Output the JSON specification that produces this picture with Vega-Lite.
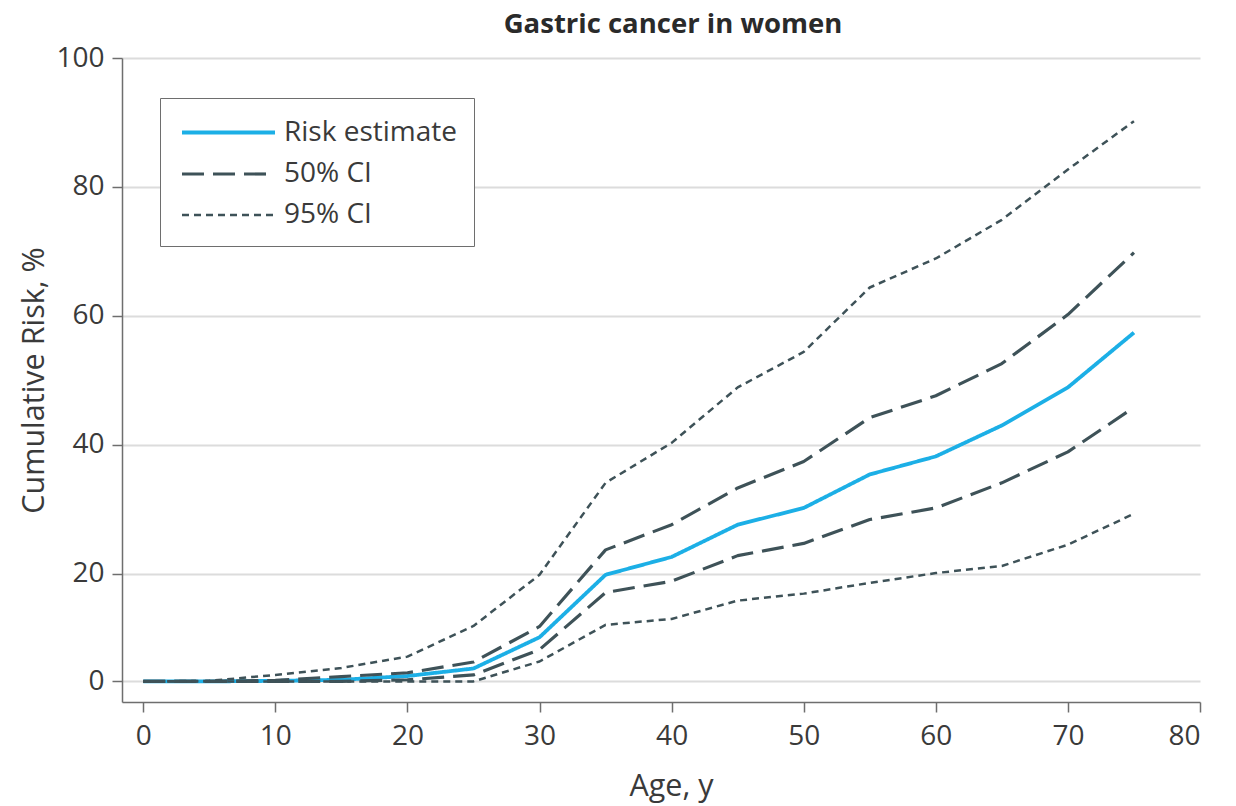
{
  "$schema": "https://vega.github.io/schema/vega-lite/v6.json",
  "width": 1078,
  "height": 644,
  "autosize": {"type": "none"},
  "padding": {"left": 122, "top": 58, "right": 36, "bottom": 104},
  "background": "white",
  "config": {
    "font": "Open Sans",
    "view": {"stroke": null},
    "axis": {
      "labelFont": "Open Sans", "labelFontSize": 28, "labelColor": "#3a3a3a",
      "titleFont": "Open Sans", "titleFontSize": 30.5, "titleFontWeight": "normal", "titleColor": "#3a3a3a",
      "domainColor": "#6e6e6e", "domainWidth": 1.5,
      "tickColor": "#6e6e6e", "tickWidth": 1.5, "tickSize": 10
    }
  },
  "title": {
    "text": "Gastric cancer in women",
    "frame": "group", "anchor": "middle",
    "fontSize": 27.5, "fontWeight": "bold", "color": "#2a2a2a", "font": "Open Sans",
    "dx": 12, "offset": 6
  },
  "data": {
    "values": [
      {"age": 0, "risk": 0, "series": "Risk estimate", "line": "est"},
      {"age": 5, "risk": 0, "series": "Risk estimate", "line": "est"},
      {"age": 10, "risk": 0.1, "series": "Risk estimate", "line": "est"},
      {"age": 15, "risk": 0.3, "series": "Risk estimate", "line": "est"},
      {"age": 20, "risk": 1.0, "series": "Risk estimate", "line": "est"},
      {"age": 25, "risk": 2.4, "series": "Risk estimate", "line": "est"},
      {"age": 30, "risk": 8.2, "series": "Risk estimate", "line": "est"},
      {"age": 35, "risk": 19.8, "series": "Risk estimate", "line": "est"},
      {"age": 40, "risk": 22.6, "series": "Risk estimate", "line": "est"},
      {"age": 45, "risk": 27.6, "series": "Risk estimate", "line": "est"},
      {"age": 50, "risk": 30.2, "series": "Risk estimate", "line": "est"},
      {"age": 55, "risk": 35.4, "series": "Risk estimate", "line": "est"},
      {"age": 60, "risk": 38.2, "series": "Risk estimate", "line": "est"},
      {"age": 65, "risk": 43.0, "series": "Risk estimate", "line": "est"},
      {"age": 70, "risk": 48.9, "series": "Risk estimate", "line": "est"},
      {"age": 75, "risk": 57.4, "series": "Risk estimate", "line": "est"},

      {"age": 0, "risk": 0, "series": "50% CI", "line": "50u"},
      {"age": 5, "risk": 0, "series": "50% CI", "line": "50u"},
      {"age": 10, "risk": 0.2, "series": "50% CI", "line": "50u"},
      {"age": 15, "risk": 0.9, "series": "50% CI", "line": "50u"},
      {"age": 20, "risk": 1.6, "series": "50% CI", "line": "50u"},
      {"age": 25, "risk": 3.6, "series": "50% CI", "line": "50u"},
      {"age": 30, "risk": 10.2, "series": "50% CI", "line": "50u"},
      {"age": 35, "risk": 23.7, "series": "50% CI", "line": "50u"},
      {"age": 40, "risk": 27.6, "series": "50% CI", "line": "50u"},
      {"age": 45, "risk": 33.3, "series": "50% CI", "line": "50u"},
      {"age": 50, "risk": 37.4, "series": "50% CI", "line": "50u"},
      {"age": 55, "risk": 44.2, "series": "50% CI", "line": "50u"},
      {"age": 60, "risk": 47.6, "series": "50% CI", "line": "50u"},
      {"age": 65, "risk": 52.6, "series": "50% CI", "line": "50u"},
      {"age": 70, "risk": 60.2, "series": "50% CI", "line": "50u"},
      {"age": 75, "risk": 69.8, "series": "50% CI", "line": "50u"},

      {"age": 0, "risk": 0, "series": "50% CI", "line": "50l"},
      {"age": 5, "risk": 0, "series": "50% CI", "line": "50l"},
      {"age": 10, "risk": 0, "series": "50% CI", "line": "50l"},
      {"age": 15, "risk": 0, "series": "50% CI", "line": "50l"},
      {"age": 20, "risk": 0.3, "series": "50% CI", "line": "50l"},
      {"age": 25, "risk": 1.2, "series": "50% CI", "line": "50l"},
      {"age": 30, "risk": 5.9, "series": "50% CI", "line": "50l"},
      {"age": 35, "risk": 16.5, "series": "50% CI", "line": "50l"},
      {"age": 40, "risk": 18.6, "series": "50% CI", "line": "50l"},
      {"age": 45, "risk": 22.8, "series": "50% CI", "line": "50l"},
      {"age": 50, "risk": 24.7, "series": "50% CI", "line": "50l"},
      {"age": 55, "risk": 28.4, "series": "50% CI", "line": "50l"},
      {"age": 60, "risk": 30.2, "series": "50% CI", "line": "50l"},
      {"age": 65, "risk": 34.1, "series": "50% CI", "line": "50l"},
      {"age": 70, "risk": 38.9, "series": "50% CI", "line": "50l"},
      {"age": 75, "risk": 45.8, "series": "50% CI", "line": "50l"},

      {"age": 0, "risk": 0, "series": "95% CI", "line": "95u"},
      {"age": 5, "risk": 0.1, "series": "95% CI", "line": "95u"},
      {"age": 10, "risk": 1.2, "series": "95% CI", "line": "95u"},
      {"age": 15, "risk": 2.5, "series": "95% CI", "line": "95u"},
      {"age": 20, "risk": 4.6, "series": "95% CI", "line": "95u"},
      {"age": 25, "risk": 10.3, "series": "95% CI", "line": "95u"},
      {"age": 30, "risk": 19.8, "series": "95% CI", "line": "95u"},
      {"age": 35, "risk": 34.1, "series": "95% CI", "line": "95u"},
      {"age": 40, "risk": 40.3, "series": "95% CI", "line": "95u"},
      {"age": 45, "risk": 48.9, "series": "95% CI", "line": "95u"},
      {"age": 50, "risk": 54.4, "series": "95% CI", "line": "95u"},
      {"age": 55, "risk": 64.4, "series": "95% CI", "line": "95u"},
      {"age": 60, "risk": 68.9, "series": "95% CI", "line": "95u"},
      {"age": 65, "risk": 74.9, "series": "95% CI", "line": "95u"},
      {"age": 70, "risk": 82.7, "series": "95% CI", "line": "95u"},
      {"age": 75, "risk": 90.2, "series": "95% CI", "line": "95u"},

      {"age": 0, "risk": 0, "series": "95% CI", "line": "95l"},
      {"age": 5, "risk": 0, "series": "95% CI", "line": "95l"},
      {"age": 10, "risk": 0, "series": "95% CI", "line": "95l"},
      {"age": 15, "risk": 0, "series": "95% CI", "line": "95l"},
      {"age": 20, "risk": 0, "series": "95% CI", "line": "95l"},
      {"age": 25, "risk": 0, "series": "95% CI", "line": "95l"},
      {"age": 30, "risk": 3.7, "series": "95% CI", "line": "95l"},
      {"age": 35, "risk": 10.5, "series": "95% CI", "line": "95l"},
      {"age": 40, "risk": 11.6, "series": "95% CI", "line": "95l"},
      {"age": 45, "risk": 15.0, "series": "95% CI", "line": "95l"},
      {"age": 50, "risk": 16.3, "series": "95% CI", "line": "95l"},
      {"age": 55, "risk": 18.3, "series": "95% CI", "line": "95l"},
      {"age": 60, "risk": 20.1, "series": "95% CI", "line": "95l"},
      {"age": 65, "risk": 21.2, "series": "95% CI", "line": "95l"},
      {"age": 70, "risk": 24.5, "series": "95% CI", "line": "95l"},
      {"age": 75, "risk": 29.3, "series": "95% CI", "line": "95l"}
    ]
  },
  "mark": {"type": "line", "strokeCap": "butt", "strokeJoin": "round"},
  "encoding": {
    "x": {
      "field": "age", "type": "quantitative",
      "scale": {"domain": [-1.61, 80], "nice": false, "zero": false},
      "axis": {"values": [0, 10, 20, 30, 40, 50, 60, 70, 80], "grid": false, "title": "Age, y", "labelPadding": 10, "titlePadding": 21, "titleX": 549}
    },
    "y": {
      "field": "risk", "type": "quantitative",
      "scale": {"domain": [-3.9, 0, 20, 100], "range": [644, 623.4, 515.7, 0], "nice": false, "zero": false},
      "axis": {"values": [0, 20, 40, 60, 80, 100], "grid": true, "gridColor": "#dcdcdc", "gridWidth": 2, "title": "Cumulative Risk, %", "labelPadding": 8, "titlePadding": 6}
    },
    "detail": {"field": "line"},
    "color": {
      "field": "series", "type": "nominal",
      "scale": {"domain": ["Risk estimate", "50% CI", "95% CI"], "range": ["#1cafe6", "#3e5258", "#3e5258"]},
      "legend": {
        "title": null, "orient": "none", "legendX": 38, "legendY": 40, "direction": "vertical",
        "symbolType": "M-1,0H5", "symbolSize": 961, "symbolOffset": 3,
        "labelFont": "Open Sans", "labelFontSize": 28, "labelColor": "#3a3a3a", "labelOffset": 69, "labelLimit": 400,
        "padding": 17, "rowPadding": 9.5,
        "strokeColor": "#6e6e6e", "fillColor": "white"
      }
    },
    "strokeDash": {
      "field": "series", "type": "nominal",
      "scale": {"domain": ["Risk estimate", "50% CI", "95% CI"], "range": [[1, 0], [22, 9], [7, 5]]},
      "legend": null
    },
    "strokeWidth": {
      "field": "series", "type": "nominal",
      "scale": {"domain": ["Risk estimate", "50% CI", "95% CI"], "range": [3.8, 2.5, 2.5]},
      "legend": null
    }
  }
}
